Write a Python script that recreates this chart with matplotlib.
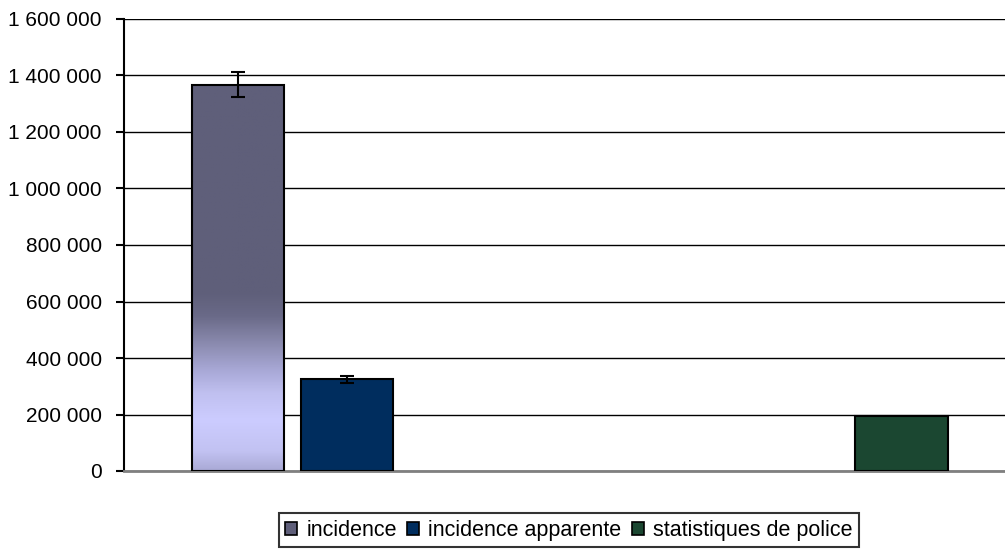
import numpy as np
import matplotlib.pyplot as plt
from matplotlib.colors import LinearSegmentedColormap
from matplotlib.ticker import FuncFormatter, MultipleLocator
from matplotlib.patches import Patch

plt.rcParams['font.family'] = ['Liberation Sans', 'DejaVu Sans']

# Data: two category slots, three series (missing values as nan)
series_names = ['incidence', 'incidence apparente', 'statistiques de police']
incidence = [1368000, np.nan]
incidence_apparente = [324000, np.nan]
statistiques_police = [np.nan, 194000]
err_incidence = [44000, np.nan]
err_apparente = [13000, np.nan]

colors = ['#5f5f7a', '#002d5e', '#1b4731']
offsets = [-0.242, 0.007, 0.265]
width = 0.209

fig = plt.figure(figsize=(10.05, 5.5), dpi=100)
ax = fig.add_axes([124 / 1005, 1 - 471 / 550, 1 - 124 / 1005, (471 - 19) / 550])

x = np.arange(2) + 0.5

# gradient for the incidence bar
grad = LinearSegmentedColormap.from_list('incgrad', [
    (0.0, '#aaaad6'), (0.05, '#c2c2f2'), (0.13, '#ccccff'), (0.2, '#c0c0f0'),
    (0.26, '#a8a8d6'), (0.33, '#8a8aae'), (0.4, '#6a6a88'), (0.46, '#5f5f7a'),
    (1.0, '#5f5f7a')])

bars = ax.bar(x + offsets[0], incidence, width, facecolor='none',
              edgecolor='black', linewidth=1.5, zorder=4)
for b in bars:
    h = b.get_height()
    if np.isnan(h):
        continue
    ax.imshow(np.linspace(0, 1, 256).reshape(-1, 1), cmap=grad,
              origin='lower', aspect='auto', zorder=3,
              extent=[b.get_x(), b.get_x() + b.get_width(), 0, h])
ax.errorbar(x + offsets[0], incidence, yerr=err_incidence, fmt='none',
            ecolor='black', elinewidth=1.5, capsize=5, capthick=1.5, zorder=5)

ax.bar(x + offsets[1], incidence_apparente, width, color=colors[1],
       edgecolor='black', linewidth=1.5, zorder=4)
ax.errorbar(x + offsets[1], incidence_apparente, yerr=err_apparente, fmt='none',
            ecolor='black', elinewidth=1.5, capsize=5, capthick=1.5, zorder=5)

ax.bar(x + offsets[2], statistiques_police, width, color=colors[2],
       edgecolor='black', linewidth=1.5, zorder=4)

ax.set_xlim(0, 2)
ax.set_ylim(0, 1600000)
ax.yaxis.set_major_locator(MultipleLocator(200000))
ax.yaxis.set_major_formatter(FuncFormatter(lambda v, p: f'{int(v):,}'.replace(',', ' ')))
ax.set_xticks([])
ax.grid(axis='y', color='black', linewidth=1, zorder=0)
ax.set_axisbelow(True)
for s in ['top', 'right']:
    ax.spines[s].set_visible(False)
ax.spines['left'].set_linewidth(1.5)
ax.spines['bottom'].set_color('#808080')
ax.spines['bottom'].set_linewidth(2)
ax.tick_params(axis='y', length=6, width=1.5, pad=10, labelsize=15)

handles = [Patch(facecolor=c, edgecolor='black', linewidth=1.2) for c in colors]
leg = fig.legend(handles, series_names, loc='center', bbox_to_anchor=(569 / 1005, 0.036),
                 ncol=3, fontsize=15.5, frameon=True, fancybox=False, edgecolor='black',
                 handlelength=0.56, handleheight=0.56, handletextpad=0.42,
                 columnspacing=0.5, borderpad=0.3, borderaxespad=0)
leg.get_frame().set_linewidth(1.5)

fig.savefig('out.png', dpi=100)
